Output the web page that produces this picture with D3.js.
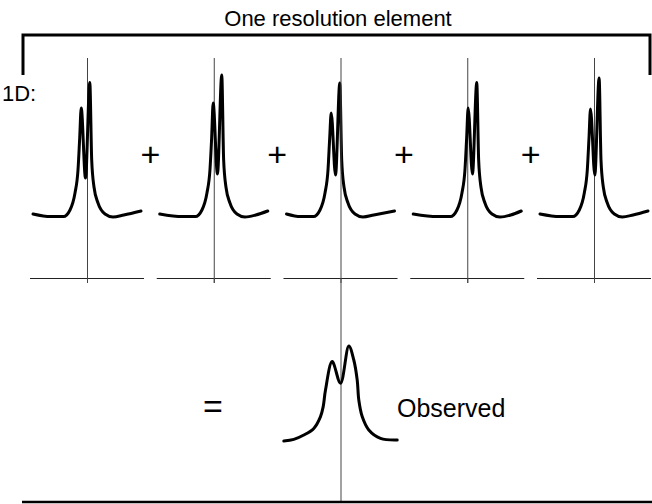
<!DOCTYPE html>
<html><head><meta charset="utf-8">
<script src="https://cdn.jsdelivr.net/npm/d3@7"></script>
<style>
html,body{margin:0;padding:0;background:#fff;}
text{font-family:"Liberation Sans",Arial,Helvetica,sans-serif;fill:#000;}
</style></head>
<body>
<script>
// ---- data ----
const titleText = "One resolution element";
const rowLabel = "1D:";
const observedLabel = "Observed";
const panels = [0, 1, 2, 3, 4];
// shift of the double-peak centre relative to each pixel's rest line
const lineShift = [-1.5, 3.7, -5, 5.2, 0.8];
const smallPeak = [85, 87.5, 82.5, 85, 84.5];
const tallPeak = [97.7, 101.5, 97.5, 97.7, 100];
const dipValue = [50, 52, 51.5, 52, 51.5];
// shared line-wing template (offset from double-peak centre, intensity)
const leftWingDx = [-35, -22, -15.5, -10.5, -7.5, -5.8];
const leftWingV = [30.7, 30.7, 34, 42.5, 54, 70];
const rightWingDx = [6.2, 8.5, 12.5, 19.5, 27.5, 38.3];
const rightWingV = [59, 45.5, 37.5, 32, 30.5, 31.5];
const peakDx = [-4.3, 0, 4.3];
const endDx = [-54, 54];
const endV = [32, 33.5];
// observed (summed) profile
const obsDx = [-56.7, -46.7, -36.7, -26.7, -20, -17.3, -15, -8.3, 0, 8.3, 13.3, 16.7, 18.3, 21.7, 28.3, 40, 56.7];
const obsV = [30.5, 31.3, 33.5, 36.8, 42.7, 47.7, 56, 70.2, 59.4, 78, 71, 61, 51, 42.7, 36, 31.8, 31];

// ---- layout ----
const W = 652, H = 504;
const svg = d3.select("body").append("svg").attr("width", W).attr("height", H);

const centerX = d3.scaleLinear().domain([0, 4]).range([87, 594]);
const yTop = d3.scaleLinear().domain([0, 100]).range([278, 78]);
const yObs = d3.scaleLinear().domain([0, 100]).range([502, 302]);

// title + bracket
svg.append("text").attr("x", 338).attr("y", 26).attr("text-anchor", "middle")
  .style("font-size", "22px").text(titleText);
svg.append("path").attr("fill", "none").attr("stroke", "#000").attr("stroke-width", 3)
  .attr("d", d3.line()([[23, 75], [23, 35], [650, 35], [650, 75]]));
svg.append("text").attr("x", 2).attr("y", 101).style("font-size", "22px").text(rowLabel);

const specLine = d3.line().curve(d3.curveMonotoneX);

panels.forEach(i => {
  const c = centerX(i);
  const x = d3.scaleLinear().domain([-60, 60]).range([c - 60, c + 60]);
  const g = svg.append("g");
  // baseline axis with central tick
  const ax = d3.axisBottom(x).tickValues([0]).tickSize(5).tickSizeOuter(0).tickFormat("");
  const axG = g.append("g").attr("transform", `translate(0,${yTop(0)})`).call(ax);
  axG.select(".domain").attr("d", `M${x(-57)},0.5H${x(57)}`).attr("stroke", "#222").attr("stroke-width", 1);
  axG.selectAll(".tick line").attr("stroke", "#444");
  // rest-wavelength line
  if (i !== 2) {
    g.append("line").attr("x1", x(0) + 0.5).attr("x2", x(0) + 0.5)
      .attr("y1", yTop(110)).attr("y2", yTop(0) + 5).attr("stroke", "#444").attr("stroke-width", 1);
  }
  // profile
  const s = lineShift[i];
  const pts = [[endDx[0], endV[0]]];
  leftWingDx.forEach((d, k) => pts.push([d + s, leftWingV[k]]));
  pts.push([peakDx[0] + s, smallPeak[i]]);
  pts.push([peakDx[1] + s, dipValue[i]]);
  pts.push([peakDx[2] + s, tallPeak[i]]);
  rightWingDx.forEach((d, k) => pts.push([d + s, rightWingV[k]]));
  pts.push([endDx[1], endV[1]]);
  g.append("path").attr("fill", "none").attr("stroke", "#000").attr("stroke-width", 3)
    .attr("stroke-linejoin", "round").attr("stroke-linecap", "round")
    .attr("d", specLine(pts.map(p => [x(p[0]), yTop(p[1])])));
  // plus sign between panels
  if (i < 4) {
    svg.append("text").attr("x", (centerX(i) + centerX(i + 1)) / 2).attr("y", 166)
      .attr("text-anchor", "middle").style("font-size", "34px").text("+");
  }
});

// observed
const cObs = centerX(2);
const xo = d3.scaleLinear().domain([-60, 60]).range([cObs - 60, cObs + 60]);
svg.append("line").attr("x1", xo(0) + 0.5).attr("x2", xo(0) + 0.5)
  .attr("y1", yTop(110)).attr("y2", yObs(0)).attr("stroke", "#444").attr("stroke-width", 1);
svg.append("line").attr("x1", 22).attr("x2", W).attr("y1", yObs(0)).attr("y2", yObs(0))
  .attr("stroke", "#000").attr("stroke-width", 2.5);
svg.append("path").attr("fill", "none").attr("stroke", "#000").attr("stroke-width", 3)
  .attr("stroke-linejoin", "round").attr("stroke-linecap", "round")
  .attr("d", d3.line().curve(d3.curveCatmullRom.alpha(0.5))(obsDx.map((d, k) => [xo(d), yObs(obsV[k])])));
svg.append("text").attr("x", 213).attr("y", 418).attr("text-anchor", "middle")
  .style("font-size", "34px").text("=");
svg.append("text").attr("x", 397).attr("y", 417).style("font-size", "25px").text(observedLabel);
</script>
</body></html>
